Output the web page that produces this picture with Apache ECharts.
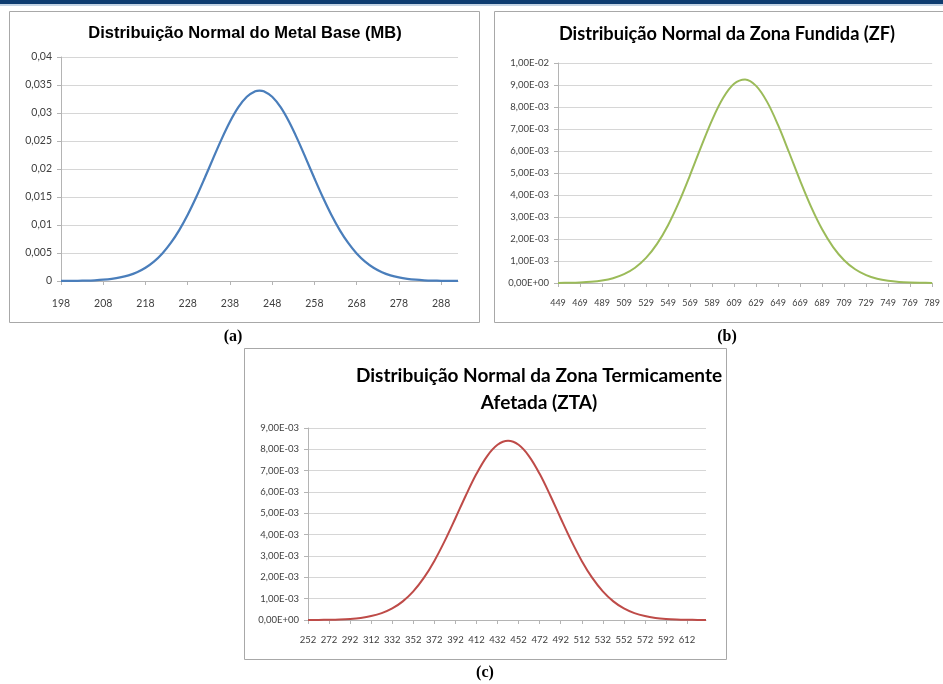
<!DOCTYPE html>
<html>
<head>
<meta charset="utf-8">
<title>Distribuição Normal</title>
<script src="https://cdn.jsdelivr.net/npm/echarts@6/dist/echarts.min.js"></script>
<style>
  html, body { margin: 0; padding: 0; background: #fff; }
  #chart { width: 943px; height: 684px; }
</style>
</head>
<body>
<div id="chart"></div>
<script>
  // (a) Metal Base
  var mbX = [198, 200, 202, 204, 206, 208, 210, 212, 214, 216, 218, 220, 222, 224, 226, 228, 230, 232, 234, 236, 238, 240, 242, 244, 245,
             246, 248, 250, 252, 254, 256, 258, 260, 262, 264, 266, 268, 270, 272, 274, 276, 278, 280, 282, 284, 286, 288, 290, 292];
  var mbY = [0.000011, 0.000021, 0.000040, 0.000073, 0.000132, 0.000229, 0.000388, 0.000637, 0.001016, 0.001577, 0.002377, 0.003468,
             0.004923, 0.006794, 0.009095, 0.011832, 0.014950, 0.018340, 0.021855, 0.025293, 0.028427, 0.031032, 0.032901, 0.033876, 0.034000,
             0.033876, 0.032901, 0.031032, 0.028427, 0.025293, 0.021855, 0.018340, 0.014950, 0.011832, 0.009095, 0.006794, 0.004923,
             0.003468, 0.002377, 0.001577, 0.001016, 0.000637, 0.000388, 0.000229, 0.000132, 0.000073, 0.000040, 0.000021, 0.000011];
  var mbTicks = [198, 208, 218, 228, 238, 248, 258, 268, 278, 288];

  // (b) Zona Fundida
  var zfX = [449, 459, 469, 479, 489, 499, 509, 519, 529, 539, 549, 559, 569, 579, 589, 599, 609, 619,
             629, 639, 649, 659, 669, 679, 689, 699, 709, 719, 729, 739, 749, 759, 769, 779, 789];
  var zfY = [0.0000049, 0.0000116, 0.0000262, 0.000056, 0.000114, 0.000219, 0.000401, 0.000694, 0.001141,
             0.001778, 0.002629, 0.003686, 0.004905, 0.006188, 0.007407, 0.008408, 0.009054, 0.009250,
             0.008959, 0.008233, 0.007175, 0.005932, 0.004652, 0.003460, 0.002441, 0.001634, 0.001037,
             0.000624, 0.000357, 0.000193, 0.000099, 0.000048, 0.000022, 0.000010, 0.000004];
  var zfTicks = [449, 469, 489, 509, 529, 549, 569, 589, 609, 629, 649, 669, 689, 709, 729, 749, 769, 789];

  // (c) Zona Termicamente Afetada
  var ztaX = [252, 262, 272, 282, 292, 302, 312, 322, 332, 342, 352, 362, 372, 382, 392, 402, 412, 422, 432, 442,
              452, 462, 472, 482, 492, 502, 512, 522, 532, 542, 552, 562, 572, 582, 592, 602, 612, 622, 630];
  var ztaY = [0.0000024, 0.0000055, 0.0000121, 0.0000255, 0.000052, 0.000099, 0.000183, 0.000323, 0.000543, 0.000874,
              0.001343, 0.001973, 0.002771, 0.003719, 0.004770, 0.005848, 0.006852, 0.007673, 0.008212, 0.008400,
              0.008212, 0.007673, 0.006852, 0.005848, 0.004770, 0.003719, 0.002771, 0.001973, 0.001343, 0.000874,
              0.000543, 0.000323, 0.000183, 0.000099, 0.000052, 0.0000255, 0.0000121, 0.0000055, 0.0000028];
  var ztaTicks = [252, 272, 292, 312, 332, 352, 372, 392, 412, 432, 452, 472, 492, 512, 532, 552, 572, 592, 612];

  function pairs(xs, ys) {
    return xs.map(function (x, i) { return [x, ys[i]]; });
  }

  function decimalComma(v) {
    if (v === 0) return '0';
    return String(+v.toFixed(4)).replace('.', ',');
  }

  function sciComma(v) {
    var parts = v.toExponential(2).split('e');
    var e = parseInt(parts[1], 10);
    var a = Math.abs(e);
    return parts[0].replace('.', ',') + 'E' + (e < 0 ? '-' : '+') + (a < 10 ? '0' : '') + a;
  }

  var labelFont = 'Lato, "Open Sans", sans-serif';
  var gridColor = '#d6d6d6';
  var axisColor = '#b4b4b4';

  function xAxisFor(idx, min, max, ticks, size, margin) {
    return {
      type: 'value', gridIndex: idx, min: min, max: max,
      axisLine: { show: true, lineStyle: { color: axisColor, width: 1 } },
      axisTick: { show: true, length: 4, customValues: ticks, lineStyle: { color: axisColor } },
      axisLabel: { customValues: ticks, margin: margin, color: '#404040', fontSize: size, fontFamily: labelFont },
      splitLine: { show: false }
    };
  }

  function yAxisFor(idx, max, interval, fmt, size) {
    return {
      type: 'value', gridIndex: idx, min: 0, max: max, interval: interval,
      axisLine: { show: true, lineStyle: { color: axisColor, width: 1 } },
      axisTick: { show: true, length: 4, lineStyle: { color: axisColor } },
      axisLabel: { formatter: fmt, margin: 9, color: '#404040', fontSize: size, fontFamily: labelFont },
      splitLine: { show: true, lineStyle: { color: gridColor, width: 1 } }
    };
  }

  function curve(idx, data, color, width) {
    return {
      type: 'line', xAxisIndex: idx, yAxisIndex: idx, data: data,
      smooth: 0.35, showSymbol: false, animation: false,
      lineStyle: { color: color, width: width }, itemStyle: { color: color }
    };
  }

  var chart = echarts.init(document.getElementById('chart'), null, { renderer: 'canvas' });

  chart.setOption({
    backgroundColor: '#ffffff',
    animation: false,
    title: [
      {
        text: 'Distribuição Normal do Metal Base (MB)', left: 245, top: 25, padding: 0, textAlign: 'center',
        textStyle: { fontFamily: '"Liberation Sans", Arial, sans-serif', fontWeight: 'bold', fontSize: 16.5, color: '#000' }
      },
      {
        text: 'Distribuição Normal da Zona Fundida (ZF)', left: 727, top: 25, padding: 0, textAlign: 'center',
        textStyle: { fontFamily: 'Lato, sans-serif', fontWeight: 'bold', fontSize: 18.2, color: '#000' }
      },
      {
        text: 'Distribuição Normal da Zona Termicamente\nAfetada (ZTA)', left: 539, top: 362, padding: 0, textAlign: 'center',
        textStyle: { fontFamily: 'Lato, sans-serif', fontWeight: 'bold', fontSize: 19, lineHeight: 27, color: '#000' }
      }
    ],
    grid: [
      { left: 61, top: 57, width: 397, height: 224 },
      { left: 558, top: 63, width: 380, height: 220 },
      { left: 308, top: 428, width: 398, height: 192 }
    ],
    xAxis: [
      xAxisFor(0, 198, 292, mbTicks, 10.5, 17),
      xAxisFor(1, 449, 789, zfTicks, 9, 16),
      xAxisFor(2, 252, 630, ztaTicks, 9.5, 15)
    ],
    yAxis: [
      yAxisFor(0, 0.04, 0.005, decimalComma, 10.5),
      yAxisFor(1, 0.01, 0.001, sciComma, 9.5),
      yAxisFor(2, 0.009, 0.001, sciComma, 9.5)
    ],
    series: [
      curve(0, pairs(mbX, mbY), '#4a7ebb', 2.25),
      curve(1, pairs(zfX, zfY), '#9bbb59', 2),
      curve(2, pairs(ztaX, ztaY), '#be4b48', 2)
    ],
    graphic: [
      // page header strip
      { type: 'rect', shape: { x: 0, y: 0, width: 943, height: 4 }, style: { fill: '#0e3c70' }, silent: true },
      { type: 'rect', shape: { x: 0, y: 4, width: 943, height: 2 }, style: { fill: '#c3d3e4' }, silent: true },
      // chart frames
      { type: 'rect', shape: { x: 9.5, y: 11.5, width: 470, height: 311 }, style: { fill: 'none', stroke: '#a8a8a8', lineWidth: 1 }, silent: true },
      { type: 'rect', shape: { x: 494.5, y: 11.5, width: 470, height: 311 }, style: { fill: 'none', stroke: '#a8a8a8', lineWidth: 1 }, silent: true },
      { type: 'rect', shape: { x: 244.5, y: 348.5, width: 482, height: 311 }, style: { fill: 'none', stroke: '#a8a8a8', lineWidth: 1 }, silent: true },
      // panel captions
      { type: 'text', x: 233, y: 337, style: { text: '(a)', textAlign: 'center', textVerticalAlign: 'middle', font: 'bold 16px "Liberation Serif", serif', fill: '#000' } },
      { type: 'text', x: 727, y: 337, style: { text: '(b)', textAlign: 'center', textVerticalAlign: 'middle', font: 'bold 16px "Liberation Serif", serif', fill: '#000' } },
      { type: 'text', x: 485, y: 673, style: { text: '(c)', textAlign: 'center', textVerticalAlign: 'middle', font: 'bold 16px "Liberation Serif", serif', fill: '#000' } }
    ]
  });
</script>
</body>
</html>
